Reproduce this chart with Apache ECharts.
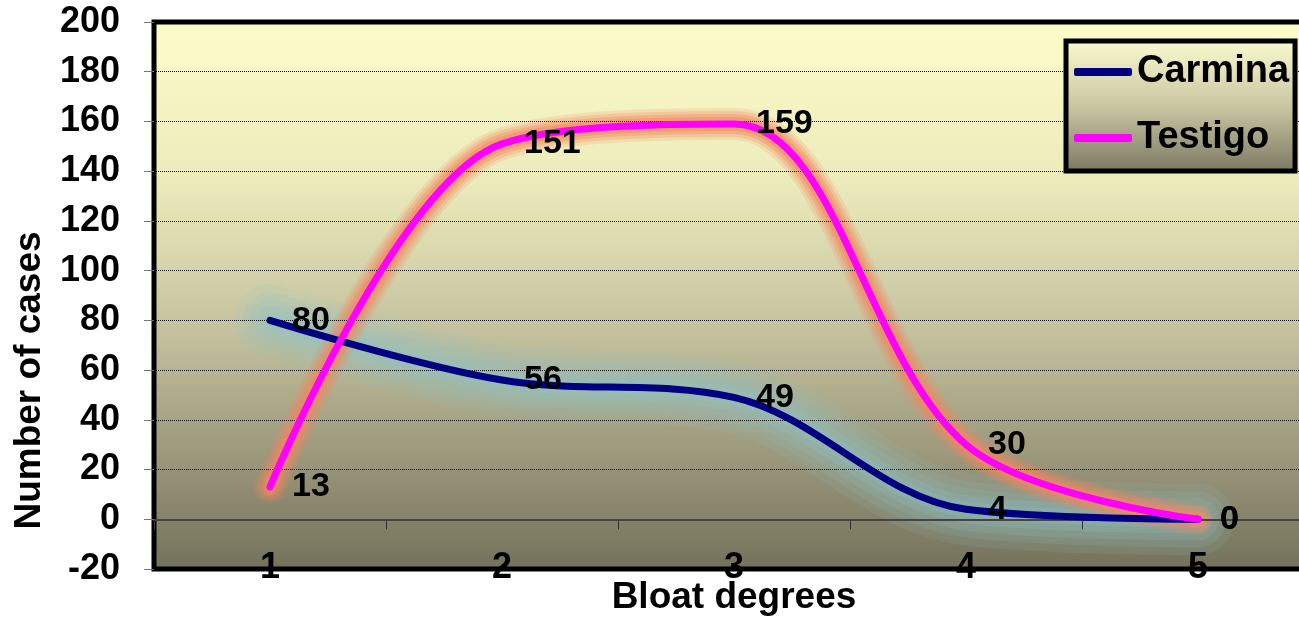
<!DOCTYPE html>
<html>
<head>
<meta charset="utf-8">
<script src="https://cdn.jsdelivr.net/npm/echarts@6/dist/echarts.min.js"></script>
<style>html,body{margin:0;padding:0;background:#fff;}#c{width:1299px;height:619px;}</style>
</head>
<body>
<div id="c"></div>
<script>
const categories = ['1', '2', '3', '4', '5'];
const carmina = [80, 56, 49, 4, 0];
const testigo = [13, 151, 159, 30, 0];
const yTicks = { min: -20, max: 200, interval: 20 };
const xTitle = 'Bloat degrees';
const yTitle = 'Number of cases';

const FONT = '"Liberation Sans", Arial, sans-serif';
const chart = echarts.init(document.getElementById('c'), null, { renderer: 'canvas' });

const plotBg = { type: 'linear', x: 0, y: 0, x2: 0, y2: 1, colorStops: [
  { offset: 0, color: '#fdfdc9' },
  { offset: 0.3, color: '#ebeabb' },
  { offset: 0.55, color: '#c6c4a0' },
  { offset: 0.8, color: '#99967a' },
  { offset: 1, color: '#74715b' }
]};
const legendBg = { type: 'linear', x: 0, y: 0, x2: 0, y2: 1, colorStops: [
  { offset: 0, color: '#fbfbcf' },
  { offset: 0.5, color: '#c9c7a2' },
  { offset: 1, color: '#7a7761' }
]};

const SMOOTH = 0.35;
const labelStyle = { show: true, position: 'right', distance: 19, color: '#000', fontFamily: FONT, fontWeight: 'bold', fontSize: 34 };

// soft halo built from several translucent strokes of the same series data
function glowLayers(data, rgb, layers) {
  return layers.map(function (l) {
    return {
      type: 'line', data: data, smooth: SMOOTH, silent: true, symbol: 'none',
      lineStyle: { color: 'rgba(' + rgb + ',' + l[1] + ')', width: l[0], cap: 'round', join: 'round' },
      label: { show: false }, z: 1, tooltip: { show: false }
    };
  });
}

chart.setOption({
  animation: false,
  backgroundColor: '#fff',
  grid: { left: 154, top: 22, right: -15, bottom: 50, outerBoundsMode: 'none', containLabel: false,
          show: true, backgroundColor: plotBg, borderColor: '#000', borderWidth: 5, z: 0 },
  legend: {
    orient: 'vertical', left: 1066, top: 41,
    padding: [12, 6, 14, 8], itemGap: 28, itemWidth: 58, itemHeight: 8,
    backgroundColor: legendBg, borderColor: '#000', borderWidth: 5,
    icon: 'roundRect',
    textStyle: { fontFamily: FONT, fontWeight: 'bold', fontSize: 38, color: '#000', lineHeight: 36 },
    data: ['Carmina', 'Testigo']
  },
  xAxis: {
    type: 'category', data: categories, boundaryGap: true, z: 1.5,
    axisLine: { show: true, onZero: true, lineStyle: { color: '#444', width: 2 } },
    axisTick: { show: true, length: 10, lineStyle: { color: '#333', width: 1 } },
    axisLabel: { margin: -19, color: '#000', fontFamily: FONT, fontWeight: 'bold', fontSize: 36 },
    splitLine: { show: false },
    name: xTitle, nameLocation: 'middle', nameGap: 10, nameMoveOverlap: false,
    nameTextStyle: { color: '#000', fontFamily: FONT, fontWeight: 'bold', fontSize: 37 }
  },
  yAxis: {
    type: 'value', min: yTicks.min, max: yTicks.max, interval: yTicks.interval, z: 1.5,
    axisLine: { show: false },
    axisTick: { show: true, length: 10, lineStyle: { color: '#777', width: 1 } },
    axisLabel: { margin: 34, color: '#000', fontFamily: FONT, fontWeight: 'bold', fontSize: 36 },
    splitLine: { show: true, lineStyle: { color: '#000', type: 'dotted', width: 1 } },
    name: yTitle, nameLocation: 'middle', nameGap: 106,
    nameTextStyle: { color: '#000', fontFamily: FONT, fontWeight: 'bold', fontSize: 37, padding: [0, 170, 0, 0] }
  },
  series: [].concat(
    glowLayers(carmina, '140,195,200', [[72, 0.12], [56, 0.15], [42, 0.18], [28, 0.22], [16, 0.25]]),
    glowLayers(testigo, '242,135,95', [[32, 0.18], [26, 0.25], [20, 0.35], [14, 0.5]]),
    [
      {
        name: 'Carmina', type: 'line', data: carmina, smooth: SMOOTH,
        symbol: 'circle', symbolSize: 6, showSymbol: true,
        itemStyle: { color: '#000080' },
        lineStyle: { color: '#000080', width: 7, cap: 'round', join: 'round' },
        label: labelStyle, z: 2
      },
      {
        name: 'Testigo', type: 'line', data: testigo, smooth: SMOOTH,
        symbol: 'circle', symbolSize: 6, showSymbol: true,
        itemStyle: { color: '#ff00ff' },
        lineStyle: { color: '#ff00ff', width: 7, cap: 'round', join: 'round' },
        label: labelStyle, z: 3
      }
    ]
  )
});
</script>
</body>
</html>
